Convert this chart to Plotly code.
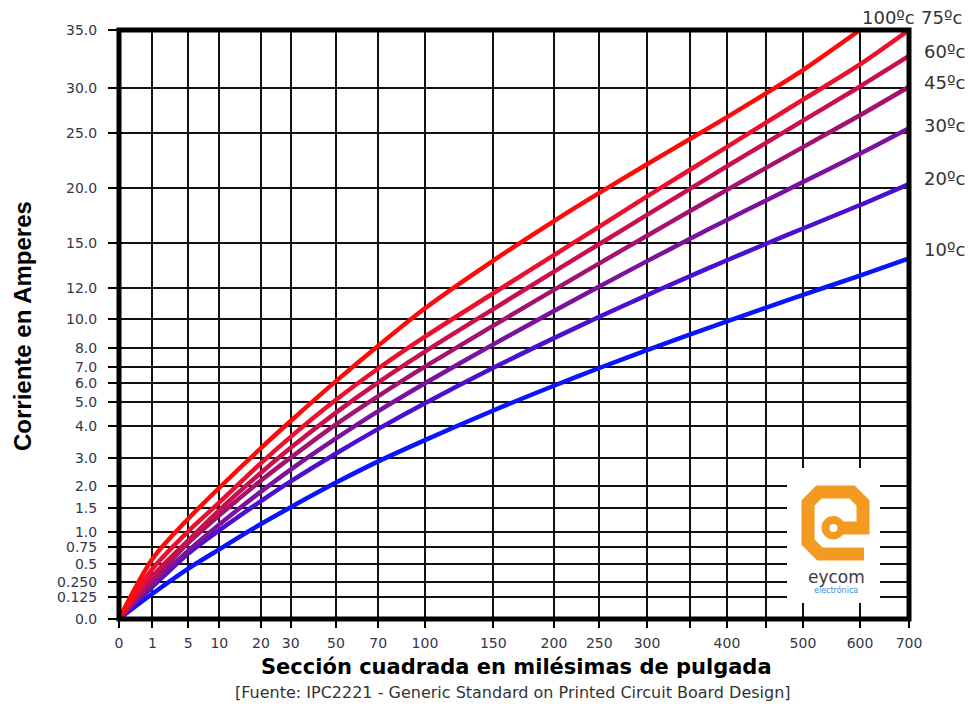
import numpy as np
import plotly.graph_objects as go

# ---------------- axis ticks (the chart uses a hand-spaced, non-uniform scale) -------------
x_ticks = [0, 1, 5, 10, 20, 30, 50, 70, 100, 150, 200, 250, 300, 350, 400, 450, 500, 600, 700]
x_ticklabels = ["0", "1", "5", "10", "20", "30", "50", "70", "100", "150", "200", "250",
                "300", "", "400", "", "500", "600", "700"]
# relative position of every x tick along the axis (scale definition)
x_tick_frac = [0, .0422, .0877, .1270, .1797, .2173, .2747, .3282, .3873, .4738, .5506,
               .6080, .6684, .7222, .7696, .8184, .8658, .9380, 1.0]

y_ticks = [0, 0.125, 0.25, 0.5, 0.75, 1, 1.5, 2, 3, 4, 5, 6, 7, 8, 10, 12, 15, 20, 25, 30, 35]
y_ticklabels = ["0.0", "0.125", "0.250", "0.5", "0.75", "1.0", "1.5", "2.0", "3.0", "4.0",
                "5.0", "6.0", "7.0", "8.0", "10.0", "12.0", "15.0", "20.0", "25.0", "30.0", "35.0"]
y_tick_frac = [0, .0379, .0623, .0929, .1217, .1482, .1890, .2258, .2739, .3282, .3679,
               .4002, .4284, .4596, .5088, .5615, .6379, .7323, .8256, .9020, 1.0]

# ---------------- data: current (A) vs cross-section (sq. mils) ----------------
section = [0, 1, 5, 10, 20, 30, 50, 70, 100, 150, 200, 250, 300, 350, 400, 450, 500, 600, 700]

i_10c = [0, 0.15, 0.44, 0.72, 1.16, 1.51, 2.12, 2.87, 3.55, 4.65, 5.87, 6.92, 7.9, 8.94,
         9.86, 10.74, 11.57, 12.85, 13.99]
i_20c = [0, 0.21, 0.66, 1.03, 1.65, 2.16, 3.13, 3.9, 4.96, 6.93, 8.7, 10.16, 11.56, 12.79,
         13.87, 14.95, 16.33, 18.44, 20.34]
i_30c = [0, 0.234, 0.70, 1.15, 1.87, 2.58, 3.6, 4.62, 6.0, 8.27, 10.54, 12.12, 13.81, 15.38,
         17.1, 18.82, 20.51, 23.1, 25.51]
i_45c = [0, 0.272, 0.82, 1.34, 2.19, 3.0, 4.06, 5.33, 7.0, 9.56, 11.9, 13.66, 15.68, 17.88,
         19.8, 21.78, 23.69, 26.94, 30.08]
i_60c = [0, 0.333, 0.86, 1.45, 2.47, 3.31, 4.56, 6.05, 7.82, 10.66, 13.11, 14.95, 17.55,
         19.87, 21.95, 24.05, 26.34, 30.11, 32.75]
i_75c = [0, 0.435, 1.01, 1.62, 2.81, 3.65, 5.13, 6.89, 8.8, 11.68, 14.21, 16.5, 19.21, 21.61,
         23.72, 26.09, 28.67, 32.02, 35.0]
section_100 = [0, 1, 5, 10, 20, 30, 50, 70, 100, 150, 200, 250, 300, 350, 400, 450, 500, 600]
i_100c = [0, 0.578, 1.27, 1.96, 3.3, 4.2, 6.13, 8.18, 10.71, 13.85, 17.0, 19.53, 22.13, 24.41,
          26.73, 29.34, 31.53, 35.0]

series = [
    ("10ºc", section, i_10c, "#0a14ff"),
    ("20ºc", section, i_20c, "#4a10d0"),
    ("30ºc", section, i_30c, "#7a129c"),
    ("45ºc", section, i_45c, "#a2126e"),
    ("60ºc", section, i_60c, "#c9104c"),
    ("75ºc", section, i_75c, "#ec0f2e"),
    ("100ºc", section_100, i_100c, "#ff0a0a"),
]


def sx(v):
    """chart x scale: value -> axis position"""
    return np.interp(np.asarray(v, dtype=float), x_ticks, x_tick_frac)


def sy(v):
    """chart y scale: value -> axis position"""
    return np.interp(np.asarray(v, dtype=float), y_ticks, y_tick_frac)


fig = go.Figure()
for name, xs, ys, col in series:
    fig.add_trace(go.Scatter(
        x=sx(xs), y=sy(ys), mode="lines", name=name,
        line=dict(color=col, width=4.5, shape="spline", smoothing=0.8),
        customdata=np.column_stack([xs, ys]),
        hovertemplate="%{customdata[0]} mil²: %{customdata[1]} A<extra>" + name + "</extra>",
    ))

# window is 970x709; the page body margin is removed in the html (post_script)
PX0, PX1, PY0, PY1 = 119, 909, 30, 619          # plot area in window pixels
W, H = 970, 709
L, T = PX0, PY0
R = W - PX1
B = H - PY1


def px(p):  # window pixel -> paper (decoration only)
    return (p - PX0) / (PX1 - PX0)


def py(p):
    return (PY1 - p) / (PY1 - PY0)


tick_font = dict(family="DejaVu Sans", size=14, color="#33364a")

fig.update_layout(
    width=W, height=H,
    margin=dict(l=L, r=R, t=T, b=B, pad=0),
    paper_bgcolor="white", plot_bgcolor="white",
    showlegend=False,
    xaxis=dict(range=[0, 1], tickmode="array", tickvals=x_tick_frac, ticktext=x_ticklabels,
               showgrid=True, gridcolor="#111", gridwidth=1.6, zeroline=False,
               ticks="outside", ticklen=8, tickwidth=2, tickcolor="black",
               tickfont=tick_font, ticklabelstandoff=3, fixedrange=True),
    yaxis=dict(range=[0, 1], tickmode="array", tickvals=y_tick_frac, ticktext=y_ticklabels,
               showgrid=True, gridcolor="#111", gridwidth=1.6, zeroline=False,
               ticks="outside", ticklen=10, tickwidth=2, tickcolor="black",
               tickfont=tick_font, ticklabelstandoff=8, fixedrange=True),
)

shapes = []
# logo white box
shapes.append(dict(type="rect", xref="paper", yref="paper", x0=px(787), x1=px(880),
                   y0=py(603), y1=py(468), fillcolor="white", line=dict(width=0), layer="above"))
# logo orange "e"
pts = [(864, 554), (820, 554), (808, 542), (808, 503), (819, 492), (852, 492), (863, 503),
       (863, 528), (836, 528)]
path = "M " + " L ".join(f"{px(a):.5f},{py(b):.5f}" for a, b in pts)
shapes.append(dict(type="path", xref="paper", yref="paper", path=path,
                   line=dict(color="#f39a21", width=13), layer="above"))
shapes.append(dict(type="circle", xref="paper", yref="paper", x0=px(821.5), x1=px(845),
                   y0=py(539.5), y1=py(516), fillcolor="#f39a21", line=dict(width=0), layer="above"))
shapes.append(dict(type="circle", xref="paper", yref="paper", x0=px(829.5), x1=px(837.5),
                   y0=py(532), y1=py(524), fillcolor="white", line=dict(width=0), layer="above"))
# thick frame
shapes.append(dict(type="rect", xref="paper", yref="paper", x0=0, x1=1, y0=0, y1=1,
                   line=dict(color="black", width=5), layer="above"))
fig.update_layout(shapes=shapes)

ann = []
lab_font = dict(family="DejaVu Sans", size=18, color="#333")
# curve labels at the right end
label_shift = {"10ºc": 9, "20ºc": 5, "30ºc": 3, "45ºc": 4, "60ºc": 4}
for name, xs, ys, col in series:
    if name in label_shift:
        ann.append(dict(x=1, xref="paper", y=float(sy(ys[-1])), yref="y", text=name,
                        xanchor="left", yanchor="middle", xshift=13, yshift=label_shift[name],
                        showarrow=False, font=lab_font))
ann.append(dict(x=1, xref="paper", y=float(sy(i_75c[-1])), yref="y", text="75ºc",
                xanchor="left", yanchor="middle", xshift=10, yshift=13, showarrow=False,
                font=lab_font))
ann.append(dict(x=1, xref="paper", y=float(sy(i_100c[-1])), yref="y", text="100ºc",
                xanchor="right", yanchor="middle", xshift=8, yshift=13, showarrow=False,
                font=lab_font))
# axis titles and source
ann.append(dict(x=px(516), xref="paper", y=py(667), yref="paper",
                text="<b>Sección cuadrada en milésimas de pulgada</b>", showarrow=False,
                xanchor="center", yanchor="middle",
                font=dict(family="DejaVu Sans", size=21, color="black")))
ann.append(dict(x=px(22), xref="paper", y=py(326), yref="paper",
                text="<b>Corriente en Amperes</b>", showarrow=False, textangle=-90,
                xanchor="center", yanchor="middle",
                font=dict(family="Liberation Sans", size=24, color="black")))
ann.append(dict(x=px(513), xref="paper", y=py(692), yref="paper",
                text="[Fuente: IPC2221 - Generic Standard on Printed Circuit Board Design]",
                showarrow=False, xanchor="center", yanchor="middle",
                font=dict(family="DejaVu Sans", size=16, color="#333")))
# logo text
ann.append(dict(x=px(836), xref="paper", y=py(577), yref="paper", text="eycom",
                showarrow=False, xanchor="center", yanchor="middle",
                font=dict(family="DejaVu Sans", size=17, color="#3a3a3a")))
ann.append(dict(x=px(836), xref="paper", y=py(590), yref="paper", text="electrónica",
                showarrow=False, xanchor="center", yanchor="middle",
                font=dict(family="DejaVu Sans", size=8, color="#3a8ad8")))
fig.update_layout(annotations=ann)

fig.write_html("out.html",
               config={"displayModeBar": False},
               post_script="document.body.style.margin='0px';"
                           "document.body.style.overflow='hidden';")
